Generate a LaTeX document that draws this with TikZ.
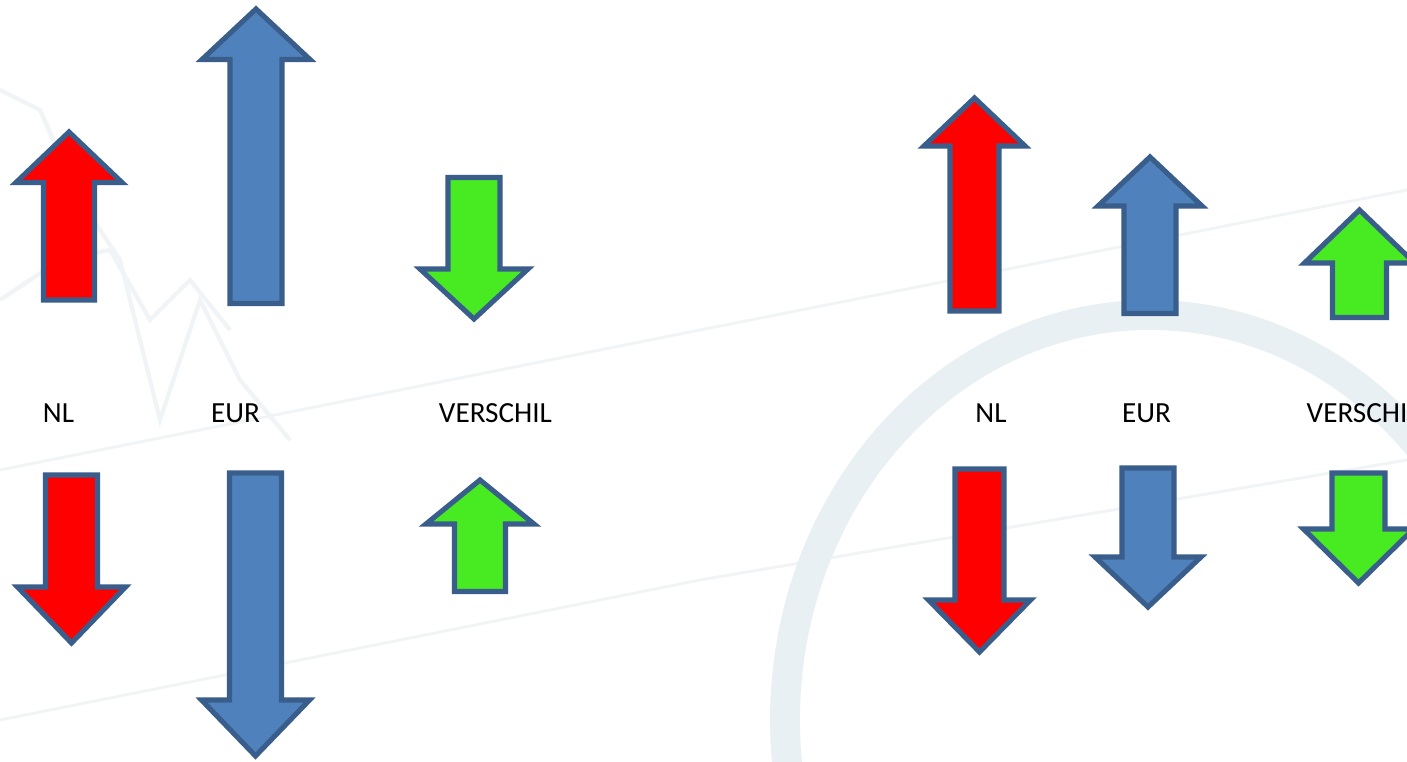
\documentclass[tikz,border=0pt]{standalone}
\usepackage{fontspec}
\setmainfont{Carlito}
\definecolor{edge}{RGB}{58,94,140}
\definecolor{bluefill}{RGB}{79,129,189}
\definecolor{redfill}{RGB}{255,0,0}
\definecolor{greenfill}{RGB}{72,235,34}
\definecolor{ringcol}{RGB}{233,240,244}
\definecolor{chartcol}{RGB}{240,244,246}
% \blockarrow{style}{xc}{tip y}{head base y}{end y}{shaft half}{head half}
\newcommand{\blockarrow}[7]{%
  \path[blockarrowstyle,#1] (#2,#3) -- ({#2+#7},#4) -- ({#2+#6},#4) -- ({#2+#6},#5)
    -- ({#2-#6},#5) -- ({#2-#6},#4) -- ({#2-#7},#4) -- cycle;}
\tikzset{
  blockarrowstyle/.style={draw=edge,line width=1.45pt,line join=miter},
  redarr/.style={fill=redfill},
  bluearr/.style={fill=bluefill},
  greenarr/.style={fill=greenfill},
  lbl/.style={font=\fontsize{8.3pt}{10pt}\selectfont,text=black,inner sep=0pt,anchor=base}
}
\begin{document}
\begin{tikzpicture}[x=0.01cm,y=-0.01cm]
\useasboundingbox (0,0) rectangle (1407,762);
\fill[white] (0,0) rectangle (1407,762);
% faint background watermark
\draw[chartcol,line width=1.2pt] (0,90) -- (40,110) -- (80,200) -- (120,260) -- (160,420) -- (200,300) -- (240,380) -- (290,440);
\draw[chartcol,line width=1.2pt] (0,300) -- (60,260) -- (110,250) -- (150,320) -- (190,280) -- (230,330);
\draw[chartcol,line width=0.8pt] (0,470) -- (700,330) -- (1407,190);
\draw[chartcol,line width=0.8pt] (0,720) -- (700,580) -- (1407,460);
\draw[ringcol,line width=8.5pt] (1150,720) ellipse [x radius=365, y radius=405];
% left group
\blockarrow{redarr}{69}{132}{182.5}{300}{25.5}{53}
\blockarrow{bluearr}{256}{9}{59.5}{303.5}{26}{54}
\blockarrow{greenarr}{474}{319}{269}{177.5}{26}{54}
\blockarrow{redarr}{71.5}{643}{587}{475}{26}{54}
\blockarrow{bluearr}{255.5}{756}{700}{473}{26}{54}
\blockarrow{greenarr}{480}{480}{524}{591.5}{25.5}{54}
% right group
\blockarrow{redarr}{974.5}{98}{146}{311}{24.5}{50.5}
\blockarrow{bluearr}{1150}{157}{206}{313.5}{26}{52}
\blockarrow{greenarr}{1359.5}{210}{263}{317.5}{27}{55}
\blockarrow{redarr}{979.5}{652}{600}{469}{24.5}{51}
\blockarrow{bluearr}{1148}{607}{557}{468}{26}{53}
\blockarrow{greenarr}{1358.5}{583}{529}{473}{26.5}{55}
% labels
\node[lbl] (nlL) at (58.5,423) {NL};
\node[lbl] (eurL) at (235.5,423) {EUR};
\node[lbl] (verL) at (495.5,423) {VERSCHIL};
\node[lbl] (nlR) at (991,423) {NL};
\node[lbl] (eurR) at (1146.5,423) {EUR};
\node[lbl,anchor=base west] (verR) at (1306,423) {VERSCHI};
\end{tikzpicture}
\end{document}
